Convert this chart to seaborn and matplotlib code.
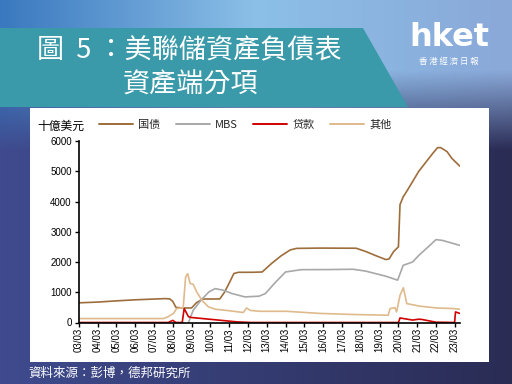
import numpy as np
import pandas as pd
import matplotlib
matplotlib.use("Agg")
import matplotlib.pyplot as plt
import matplotlib.dates as mdates
from matplotlib.patches import Polygon, Rectangle
import seaborn as sns

# ---------------- data (billions USD) ----------------
series_names = ["国债", "MBS", "贷款", "其他"]

treasury_dates = ["2003-03-01", "2004-03-01", "2005-03-01", "2006-03-01", "2007-03-01",
                  "2007-10-01", "2008-01-01", "2008-03-01", "2008-05-01", "2008-09-01",
                  "2009-03-01", "2009-06-01", "2009-10-01", "2010-03-01", "2010-09-01",
                  "2010-12-01", "2011-03-01", "2011-06-01", "2011-09-01", "2012-06-01",
                  "2012-12-01", "2013-06-01", "2013-12-01", "2014-06-01", "2014-10-01",
                  "2016-01-01", "2017-12-01", "2018-06-01", "2019-01-01", "2019-07-01",
                  "2019-09-01", "2019-12-01", "2020-03-01", "2020-04-01", "2020-06-01",
                  "2020-09-01", "2021-04-01", "2022-01-01", "2022-04-01", "2022-06-01",
                  "2022-10-01", "2023-01-01", "2023-06-05"]
treasury_vals = [650, 675, 715, 750, 775,
                 790, 780, 700, 500, 480,
                 480, 650, 776, 776, 780,
                 1000, 1300, 1620, 1660, 1660,
                 1670, 1950, 2200, 2400, 2450,
                 2460, 2455, 2350, 2200, 2080,
                 2100, 2350, 2500, 3900, 4150,
                 4400, 5000, 5600, 5780, 5780,
                 5650, 5430, 5170]

mbs_dates = ["2009-01-01", "2009-04-01", "2009-09-01", "2010-02-01", "2010-06-01",
             "2010-11-01", "2011-05-01", "2012-01-01", "2012-10-01", "2013-02-01",
             "2013-08-01", "2014-03-01", "2015-01-01", "2016-06-01", "2017-10-01",
             "2018-06-01", "2019-07-01", "2020-02-15", "2020-06-01", "2020-12-01",
             "2021-04-01", "2021-11-01", "2022-03-01", "2022-07-01", "2023-06-05"]
mbs_vals = [0, 400, 740, 1010, 1120,
            1070, 955, 846, 870, 955,
            1300, 1670, 1747, 1750, 1760,
            1700, 1530, 1400, 1890, 2000,
            2220, 2550, 2740, 2715, 2550]

loan_dates = ["2003-03-01", "2007-12-01", "2008-03-01", "2008-05-01", "2008-09-01",
              "2008-10-08", "2009-01-01", "2009-03-01", "2010-02-01", "2011-01-01",
              "2011-08-01", "2012-05-01", "2020-03-01", "2020-04-01", "2020-12-01",
              "2021-04-01", "2021-06-01", "2022-03-01", "2023-02-25", "2023-03-15",
              "2023-06-05"]
loan_vals = [0, 0, 70, 0, 0,
             460, 190, 165, 110, 55,
             20, 0, 0, 150, 80,
             110, 100, 10, 0, 350,
             300]

other_dates = ["2003-03-01", "2007-09-01", "2007-12-01", "2008-03-15", "2008-05-15",
               "2008-09-20", "2008-11-05", "2008-12-15", "2009-02-01", "2009-04-01",
               "2009-06-10", "2009-09-15", "2010-01-20", "2010-06-01", "2011-01-10",
               "2011-12-01", "2012-02-01", "2012-04-15", "2012-10-15", "2014-03-15",
               "2016-01-01", "2017-10-01", "2019-08-15", "2019-09-20", "2019-12-25",
               "2020-01-25", "2020-04-01", "2020-06-05", "2020-08-10", "2021-04-20",
               "2022-03-15", "2023-01-30", "2023-06-05"]
other_vals = [130, 130, 190, 300, 460,
              490, 1500, 1615, 1290, 1265,
              1010, 740, 520, 440, 400,
              330, 480, 400, 370, 370,
              300, 265, 240, 460, 490,
              350, 900, 1150, 625, 540,
              480, 460, 440]

y_ticks = [0, 1000, 2000, 3000, 4000, 5000, 6000]
colors = ["#9E6D3C", "#A8A8A8", "#D00000", "#DFBA8C"]

frames = []
for name, d, v in [(series_names[0], treasury_dates, treasury_vals),
                   (series_names[1], mbs_dates, mbs_vals),
                   (series_names[2], loan_dates, loan_vals),
                   (series_names[3], other_dates, other_vals)]:
    frames.append(pd.DataFrame({"date": pd.to_datetime(d), "value": v, "series": name}))
df = pd.concat(frames, ignore_index=True)

# ---------------- style ----------------
sns.set_theme(style="ticks")
plt.rcParams["font.family"] = ["Liberation Sans", "Noto Sans CJK TC", "DejaVu Sans"]

W, H = 512, 384
fig = plt.figure(figsize=(W / 100, H / 100), dpi=100)

# background gradient
bg = fig.add_axes([0, 0, 1, 1])
xs = np.linspace(0, 1, W)[None, :, None]
ys = np.linspace(0, 1, H)[:, None, None]
def hx(c):
    return np.array([int(c[i:i + 2], 16) / 255 for i in (1, 3, 5)])
upL, upM, upR = hx("#3a78bf"), hx("#8cc0e8"), hx("#8aa8d8")
loL, loR = hx("#3f4b8e"), hx("#2a2c54")
upper = np.where(xs < 0.5, upL + (upM - upL) * (xs / 0.5), upM + (upR - upM) * ((xs - 0.5) / 0.5))
lower = loL + (loR - loL) * xs
t = np.clip((ys * H - 70) / 80, 0, 1)
img = upper * (1 - t) + lower * t
bg.imshow(img, extent=[0, W, H, 0], aspect="auto")
bg.set_xlim(0, W)
bg.set_ylim(H, 0)
bg.axis("off")

# teal title banner
bg.add_patch(Polygon([(0, 28), (363, 28), (408, 107), (0, 107)], closed=True,
                     facecolor="#3A9AA9", edgecolor="none"))
# white chart panel
bg.add_patch(Rectangle((30, 108), 459, 254, facecolor="white", edgecolor="none"))

cjk_tc = ["Noto Sans CJK TC", "DejaVu Sans"]
bg.text(37, 51, "圖  5 ：美聯儲資產負債表", color="white", fontsize=19.5,
        family=cjk_tc, fontweight="light", va="center", ha="left")
bg.text(123, 85, "資產端分項", color="white", fontsize=19.5,
        family=cjk_tc, fontweight="light", va="center", ha="left")
bg.text(449, 37, "hket", color="white", fontsize=23, fontweight="bold",
        family=["DejaVu Sans"], va="center", ha="center")
bg.text(449, 61, "香 港 經 濟 日 報", color="white", fontsize=6,
        family=cjk_tc, va="center", ha="center")
bg.text(28, 373, "資料來源：彭博，德邦研究所", color="white", fontsize=9,
        family=cjk_tc, va="center", ha="left")
bg.text(37, 126, "十億美元", color="black", fontsize=8.5,
        family=cjk_tc, va="center", ha="left")

# ---------------- chart ----------------
ax = fig.add_axes([78.7 / W, (H - 322.5) / H, (460 - 78.7) / W, (322.5 - 141) / H])
sns.lineplot(data=df, x="date", y="value", hue="series", hue_order=series_names,
             palette=colors, linewidth=1.2, ax=ax, estimator=None, sort=True)

ax.set_xlim(pd.Timestamp("2003-03-01"), pd.Timestamp("2023-06-10"))
ax.set_ylim(0, 6000)
ax.set_yticks(y_ticks)
ax.xaxis.set_major_locator(mdates.YearLocator(base=1, month=3, day=1))
ax.xaxis.set_major_formatter(mdates.DateFormatter("%y/%m"))
ax.tick_params(axis="x", labelrotation=90, labelsize=7, length=3, width=1, pad=1,
               colors="black")
ax.tick_params(axis="y", labelsize=7, length=3, width=1, pad=2, colors="black")
for lab in ax.get_xticklabels() + ax.get_yticklabels():
    lab.set_family(["Liberation Sans", "DejaVu Sans"])
ax.set_xlabel("")
ax.set_ylabel("")
for s in ["top", "right"]:
    ax.spines[s].set_visible(False)
for s in ["left", "bottom"]:
    ax.spines[s].set_color("black")
    ax.spines[s].set_linewidth(1.2)
ax.set_facecolor("white")
ax.grid(False)

leg = ax.legend(loc="center left", bbox_to_anchor=(99 / W, 1 - 125 / H),
                bbox_transform=fig.transFigure, ncol=4, frameon=False,
                fontsize=8, handlelength=3.1, handletextpad=0.45,
                columnspacing=1.35, borderpad=0, borderaxespad=0,
                prop={"family": ["Noto Sans CJK SC", "DejaVu Sans"], "size": 8})
for ln in leg.get_lines():
    ln.set_linewidth(1.4)

fig.savefig("out.png", dpi=100)
